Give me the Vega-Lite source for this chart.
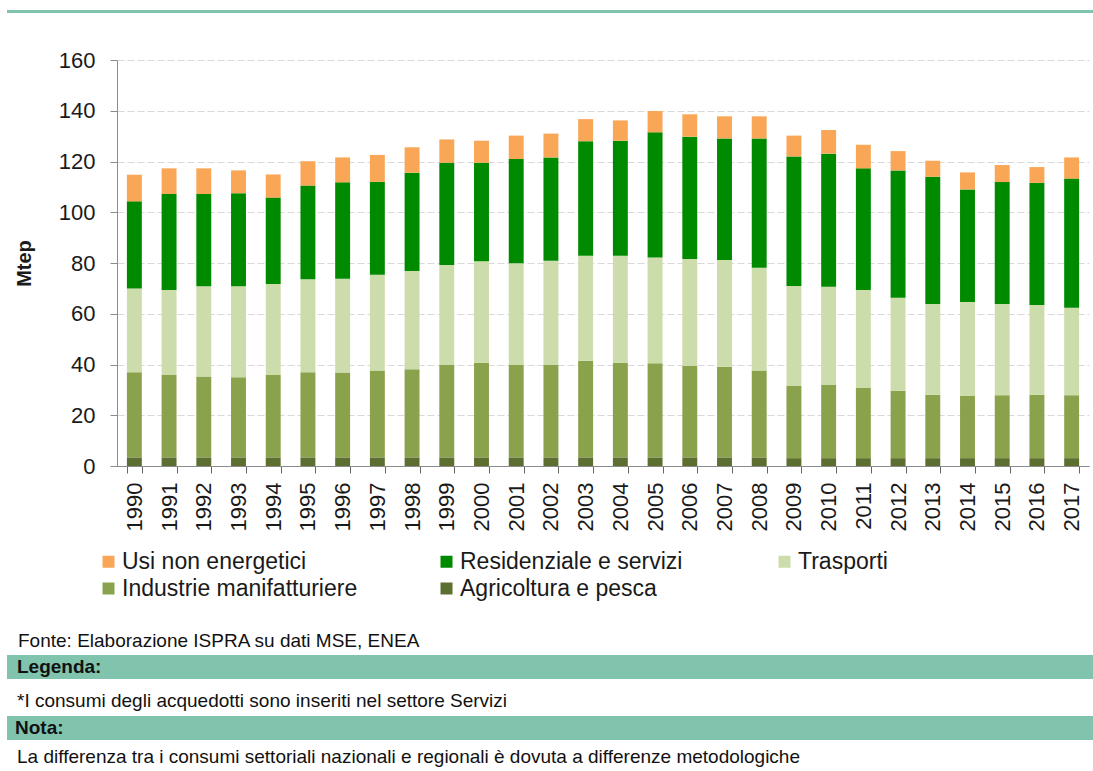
{
  "$schema": "https://vega.github.io/schema/vega-lite/v6.json",
  "background": "white",
  "padding": {"left": 7, "top": 10, "right": 0, "bottom": 0},
  "config": {"view": {"stroke": null}, "font": "Liberation Sans"},
  "spacing": 0,
  "datasets": {
    "settori": [
      {"s": "Agricoltura e pesca", "k": 1},
      {"s": "Industrie manifatturiere", "k": 2},
      {"s": "Trasporti", "k": 3},
      {"s": "Residenziale e servizi", "k": 4},
      {"s": "Usi non energetici", "k": 5}
    ],
    "consumi": [
      {"anno": "1990", "s": "Agricoltura e pesca", "v": 3.4}, {"anno": "1990", "s": "Industrie manifatturiere", "v": 33.5}, {"anno": "1990", "s": "Trasporti", "v": 33.1}, {"anno": "1990", "s": "Residenziale e servizi", "v": 34.3}, {"anno": "1990", "s": "Usi non energetici", "v": 10.5},
      {"anno": "1991", "s": "Agricoltura e pesca", "v": 3.4}, {"anno": "1991", "s": "Industrie manifatturiere", "v": 32.5}, {"anno": "1991", "s": "Trasporti", "v": 33.5}, {"anno": "1991", "s": "Residenziale e servizi", "v": 37.8}, {"anno": "1991", "s": "Usi non energetici", "v": 10.1},
      {"anno": "1992", "s": "Agricoltura e pesca", "v": 3.4}, {"anno": "1992", "s": "Industrie manifatturiere", "v": 31.9}, {"anno": "1992", "s": "Trasporti", "v": 35.5}, {"anno": "1992", "s": "Residenziale e servizi", "v": 36.4}, {"anno": "1992", "s": "Usi non energetici", "v": 10.1},
      {"anno": "1993", "s": "Agricoltura e pesca", "v": 3.4}, {"anno": "1993", "s": "Industrie manifatturiere", "v": 31.6}, {"anno": "1993", "s": "Trasporti", "v": 35.8}, {"anno": "1993", "s": "Residenziale e servizi", "v": 36.7}, {"anno": "1993", "s": "Usi non energetici", "v": 9.0},
      {"anno": "1994", "s": "Agricoltura e pesca", "v": 3.4}, {"anno": "1994", "s": "Industrie manifatturiere", "v": 32.5}, {"anno": "1994", "s": "Trasporti", "v": 35.8}, {"anno": "1994", "s": "Residenziale e servizi", "v": 34.1}, {"anno": "1994", "s": "Usi non energetici", "v": 9.1},
      {"anno": "1995", "s": "Agricoltura e pesca", "v": 3.4}, {"anno": "1995", "s": "Industrie manifatturiere", "v": 33.5}, {"anno": "1995", "s": "Trasporti", "v": 36.7}, {"anno": "1995", "s": "Residenziale e servizi", "v": 36.9}, {"anno": "1995", "s": "Usi non energetici", "v": 9.6},
      {"anno": "1996", "s": "Agricoltura e pesca", "v": 3.4}, {"anno": "1996", "s": "Industrie manifatturiere", "v": 33.4}, {"anno": "1996", "s": "Trasporti", "v": 37.0}, {"anno": "1996", "s": "Residenziale e servizi", "v": 38.0}, {"anno": "1996", "s": "Usi non energetici", "v": 9.8},
      {"anno": "1997", "s": "Agricoltura e pesca", "v": 3.4}, {"anno": "1997", "s": "Industrie manifatturiere", "v": 34.2}, {"anno": "1997", "s": "Trasporti", "v": 37.8}, {"anno": "1997", "s": "Residenziale e servizi", "v": 36.6}, {"anno": "1997", "s": "Usi non energetici", "v": 10.6},
      {"anno": "1998", "s": "Agricoltura e pesca", "v": 3.4}, {"anno": "1998", "s": "Industrie manifatturiere", "v": 34.7}, {"anno": "1998", "s": "Trasporti", "v": 38.7}, {"anno": "1998", "s": "Residenziale e servizi", "v": 38.8}, {"anno": "1998", "s": "Usi non energetici", "v": 10.0},
      {"anno": "1999", "s": "Agricoltura e pesca", "v": 3.4}, {"anno": "1999", "s": "Industrie manifatturiere", "v": 36.4}, {"anno": "1999", "s": "Trasporti", "v": 39.4}, {"anno": "1999", "s": "Residenziale e servizi", "v": 40.3}, {"anno": "1999", "s": "Usi non energetici", "v": 9.2},
      {"anno": "2000", "s": "Agricoltura e pesca", "v": 3.4}, {"anno": "2000", "s": "Industrie manifatturiere", "v": 37.3}, {"anno": "2000", "s": "Trasporti", "v": 40.0}, {"anno": "2000", "s": "Residenziale e servizi", "v": 38.8}, {"anno": "2000", "s": "Usi non energetici", "v": 8.7},
      {"anno": "2001", "s": "Agricoltura e pesca", "v": 3.4}, {"anno": "2001", "s": "Industrie manifatturiere", "v": 36.4}, {"anno": "2001", "s": "Trasporti", "v": 40.1}, {"anno": "2001", "s": "Residenziale e servizi", "v": 41.1}, {"anno": "2001", "s": "Usi non energetici", "v": 9.2},
      {"anno": "2002", "s": "Agricoltura e pesca", "v": 3.4}, {"anno": "2002", "s": "Industrie manifatturiere", "v": 36.4}, {"anno": "2002", "s": "Trasporti", "v": 41.1}, {"anno": "2002", "s": "Residenziale e servizi", "v": 40.7}, {"anno": "2002", "s": "Usi non energetici", "v": 9.4},
      {"anno": "2003", "s": "Agricoltura e pesca", "v": 3.4}, {"anno": "2003", "s": "Industrie manifatturiere", "v": 38.1}, {"anno": "2003", "s": "Trasporti", "v": 41.4}, {"anno": "2003", "s": "Residenziale e servizi", "v": 45.1}, {"anno": "2003", "s": "Usi non energetici", "v": 8.7},
      {"anno": "2004", "s": "Agricoltura e pesca", "v": 3.4}, {"anno": "2004", "s": "Industrie manifatturiere", "v": 37.3}, {"anno": "2004", "s": "Trasporti", "v": 42.2}, {"anno": "2004", "s": "Residenziale e servizi", "v": 45.3}, {"anno": "2004", "s": "Usi non energetici", "v": 8.0},
      {"anno": "2005", "s": "Agricoltura e pesca", "v": 3.4}, {"anno": "2005", "s": "Industrie manifatturiere", "v": 37.1}, {"anno": "2005", "s": "Trasporti", "v": 41.7}, {"anno": "2005", "s": "Residenziale e servizi", "v": 49.3}, {"anno": "2005", "s": "Usi non energetici", "v": 8.4},
      {"anno": "2006", "s": "Agricoltura e pesca", "v": 3.4}, {"anno": "2006", "s": "Industrie manifatturiere", "v": 36.1}, {"anno": "2006", "s": "Trasporti", "v": 42.1}, {"anno": "2006", "s": "Residenziale e servizi", "v": 48.2}, {"anno": "2006", "s": "Usi non energetici", "v": 8.8},
      {"anno": "2007", "s": "Agricoltura e pesca", "v": 3.4}, {"anno": "2007", "s": "Industrie manifatturiere", "v": 35.7}, {"anno": "2007", "s": "Trasporti", "v": 42.1}, {"anno": "2007", "s": "Residenziale e servizi", "v": 47.9}, {"anno": "2007", "s": "Usi non energetici", "v": 8.7},
      {"anno": "2008", "s": "Agricoltura e pesca", "v": 3.4}, {"anno": "2008", "s": "Industrie manifatturiere", "v": 34.2}, {"anno": "2008", "s": "Trasporti", "v": 40.5}, {"anno": "2008", "s": "Residenziale e servizi", "v": 51.0}, {"anno": "2008", "s": "Usi non energetici", "v": 8.7},
      {"anno": "2009", "s": "Agricoltura e pesca", "v": 3.1}, {"anno": "2009", "s": "Industrie manifatturiere", "v": 28.4}, {"anno": "2009", "s": "Trasporti", "v": 39.4}, {"anno": "2009", "s": "Residenziale e servizi", "v": 51.1}, {"anno": "2009", "s": "Usi non energetici", "v": 8.2},
      {"anno": "2010", "s": "Agricoltura e pesca", "v": 3.1}, {"anno": "2010", "s": "Industrie manifatturiere", "v": 28.8}, {"anno": "2010", "s": "Trasporti", "v": 38.7}, {"anno": "2010", "s": "Residenziale e servizi", "v": 52.5}, {"anno": "2010", "s": "Usi non energetici", "v": 9.3},
      {"anno": "2011", "s": "Agricoltura e pesca", "v": 3.1}, {"anno": "2011", "s": "Industrie manifatturiere", "v": 27.6}, {"anno": "2011", "s": "Trasporti", "v": 38.7}, {"anno": "2011", "s": "Residenziale e servizi", "v": 47.9}, {"anno": "2011", "s": "Usi non energetici", "v": 9.3},
      {"anno": "2012", "s": "Agricoltura e pesca", "v": 3.1}, {"anno": "2012", "s": "Industrie manifatturiere", "v": 26.6}, {"anno": "2012", "s": "Trasporti", "v": 36.6}, {"anno": "2012", "s": "Residenziale e servizi", "v": 50.2}, {"anno": "2012", "s": "Usi non energetici", "v": 7.6},
      {"anno": "2013", "s": "Agricoltura e pesca", "v": 3.1}, {"anno": "2013", "s": "Industrie manifatturiere", "v": 25.0}, {"anno": "2013", "s": "Trasporti", "v": 35.7}, {"anno": "2013", "s": "Residenziale e servizi", "v": 50.2}, {"anno": "2013", "s": "Usi non energetici", "v": 6.3},
      {"anno": "2014", "s": "Agricoltura e pesca", "v": 3.1}, {"anno": "2014", "s": "Industrie manifatturiere", "v": 24.5}, {"anno": "2014", "s": "Trasporti", "v": 37.0}, {"anno": "2014", "s": "Residenziale e servizi", "v": 44.4}, {"anno": "2014", "s": "Usi non energetici", "v": 6.7},
      {"anno": "2015", "s": "Agricoltura e pesca", "v": 3.1}, {"anno": "2015", "s": "Industrie manifatturiere", "v": 24.8}, {"anno": "2015", "s": "Trasporti", "v": 35.9}, {"anno": "2015", "s": "Residenziale e servizi", "v": 48.1}, {"anno": "2015", "s": "Usi non energetici", "v": 6.7},
      {"anno": "2016", "s": "Agricoltura e pesca", "v": 3.1}, {"anno": "2016", "s": "Industrie manifatturiere", "v": 25.0}, {"anno": "2016", "s": "Trasporti", "v": 35.3}, {"anno": "2016", "s": "Residenziale e servizi", "v": 48.2}, {"anno": "2016", "s": "Usi non energetici", "v": 6.2},
      {"anno": "2017", "s": "Agricoltura e pesca", "v": 3.1}, {"anno": "2017", "s": "Industrie manifatturiere", "v": 24.8}, {"anno": "2017", "s": "Trasporti", "v": 34.5}, {"anno": "2017", "s": "Residenziale e servizi", "v": 50.9}, {"anno": "2017", "s": "Usi non energetici", "v": 8.3}
    ]
  },
  "vconcat": [
    {
      "width": 1086,
      "height": 3,
      "data": {"values": []},
      "mark": {"type": "point", "opacity": 0},
      "view": {"fill": "#80c4ae", "stroke": null}
    },
    {
      "width": 1086,
      "height": 36,
      "data": {"values": []},
      "mark": {"type": "point", "opacity": 0},
      "view": {"fill": "white", "stroke": null}
    },
    {
      "spacing": 0,
      "hconcat": [
        {
          "width": 7,
          "height": 406,
          "data": {"values": []},
          "mark": {"type": "point", "opacity": 0},
          "view": {"stroke": null}
        },
        {
          "width": 972,
          "height": 406,
          "data": {"name": "consumi"},
          "transform": [
            {"lookup": "s", "from": {"data": {"name": "settori"}, "key": "s", "fields": ["k"]}}
          ],
          "mark": {"type": "bar"},
          "encoding": {
            "x": {
              "field": "anno",
              "type": "ordinal",
              "scale": {"paddingInner": 0.57, "paddingOuter": 0.285},
              "axis": {
                "title": null,
                "labelAngle": -90,
                "labelFontSize": 22,
                "labelColor": "#1a1a1a",
                "labelPadding": 9,
                "tickSize": 7,
                "tickColor": "#666666",
                "domainColor": "#8c8c8c",
                "tickBand": "extent",
                "grid": false
              }
            },
            "y": {
              "field": "v",
              "type": "quantitative",
              "stack": "zero",
              "scale": {"domain": [0, 160], "nice": false},
              "axis": {
                "title": "Mtep",
                "values": [0, 20, 40, 60, 80, 100, 120, 140, 160],
                "grid": true,
                "gridColor": "#d9d9d9",
                "gridDash": [7, 3],
                "domainColor": "#8c8c8c",
                "tickColor": "#8c8c8c",
                "tickSize": 7,
                "labelFontSize": 22,
                "labelColor": "#1a1a1a",
                "labelPadding": 15,
                "titleFontSize": 20,
                "titleFontWeight": "bold",
                "titleColor": "#1a1a1a",
                "titlePadding": 24
              }
            },
            "color": {
              "field": "s",
              "type": "nominal",
              "scale": {
                "domain": ["Usi non energetici", "Residenziale e servizi", "Trasporti", "Industrie manifatturiere", "Agricoltura e pesca"],
                "range": ["#f9a656", "#008a00", "#cddcab", "#8ba24c", "#5c6f31"]
              },
              "legend": {
                "title": null,
                "orient": "none",
                "legendX": 90,
                "legendY": 540,
                "direction": "horizontal",
                "columns": 3,
                "gridAlign": "all",
                "columnPadding": 77,
                "rowPadding": 3,
                "symbolType": "square",
                "symbolSize": 144,
                "symbolStrokeWidth": 0,
                "labelFontSize": 23,
                "labelColor": "#1a1a1a",
                "labelOffset": 2,
                "labelLimit": 400,
                "padding": 0
              }
            },
            "order": {"field": "k", "type": "quantitative", "sort": "ascending"}
          },
          "view": {"stroke": null}
        }
      ]
    },
    {
      "width": 1086,
      "height": 124,
      "data": {"values": [{"t": "Fonte: Elaborazione ISPRA su dati MSE, ENEA"}]},
      "mark": {"type": "text", "align": "left", "baseline": "middle", "font": "Liberation Sans", "fontSize": 19, "color": "#111111"},
      "encoding": {"text": {"field": "t"}, "x": {"value": 11}, "y": {"value": 110}},
      "view": {"fill": "white", "stroke": null}
    },
    {
      "width": 1086,
      "height": 24,
      "data": {"values": [{"t": "Legenda:"}]},
      "mark": {"type": "text", "align": "left", "baseline": "middle", "font": "Liberation Sans", "fontWeight": "bold", "fontSize": 19, "color": "#111111"},
      "encoding": {"text": {"field": "t"}, "x": {"value": 10}, "y": {"value": 12}},
      "view": {"fill": "#80c4ae", "stroke": null}
    },
    {
      "width": 1086,
      "height": 37,
      "data": {"values": [{"t": "*I consumi degli acquedotti sono inseriti nel settore Servizi"}]},
      "mark": {"type": "text", "align": "left", "baseline": "middle", "font": "Liberation Sans", "fontSize": 19, "color": "#111111"},
      "encoding": {"text": {"field": "t"}, "x": {"value": 10}, "y": {"value": 22}},
      "view": {"fill": "white", "stroke": null}
    },
    {
      "width": 1086,
      "height": 24,
      "data": {"values": [{"t": "Nota:"}]},
      "mark": {"type": "text", "align": "left", "baseline": "middle", "font": "Liberation Sans", "fontWeight": "bold", "fontSize": 19, "color": "#111111"},
      "encoding": {"text": {"field": "t"}, "x": {"value": 8}, "y": {"value": 12}},
      "view": {"fill": "#80c4ae", "stroke": null}
    },
    {
      "width": 1086,
      "height": 31,
      "data": {"values": [{"t": "La differenza tra i consumi settoriali nazionali e regionali è dovuta a differenze metodologiche"}]},
      "mark": {"type": "text", "align": "left", "baseline": "middle", "font": "Liberation Sans", "fontSize": 19, "color": "#111111"},
      "encoding": {"text": {"field": "t"}, "x": {"value": 10}, "y": {"value": 17}},
      "view": {"fill": "white", "stroke": null}
    }
  ]
}
